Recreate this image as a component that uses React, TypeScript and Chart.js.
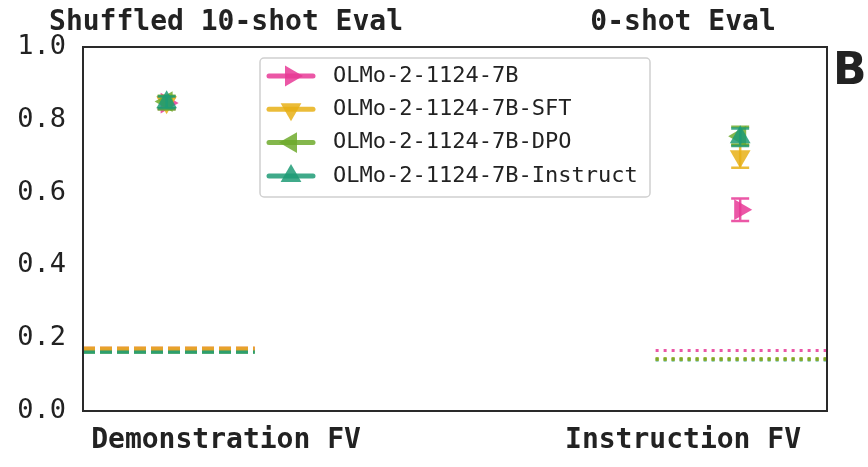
import React, { useEffect, useRef } from "react";
import { Chart, registerables } from "chart.js";

Chart.register(...registerables);

// ---- data ----
const categories = ["Demonstration FV", "Instruction FV"];
const panelTitles = ["Shuffled 10-shot Eval", "0-shot Eval"];
const models = [
  "OLMo-2-1124-7B",
  "OLMo-2-1124-7B-SFT",
  "OLMo-2-1124-7B-DPO",
  "OLMo-2-1124-7B-Instruct",
];
const demoScores = [0.846, 0.848, 0.85, 0.848];
const demoErrLow = [0.83, 0.832, 0.828, 0.832];
const demoErrHigh = [0.862, 0.864, 0.866, 0.864];
const instrScores = [0.553, 0.7, 0.755, 0.752];
const instrErrLow = [0.522, 0.668, 0.732, 0.728];
const instrErrHigh = [0.584, 0.73, 0.781, 0.776];
const demoBaseline = [0.171, 0.172, 0.163, 0.163];
const instrBaseline = [0.166, 0.143, 0.143, 0.141];
const yTicks = [0, 0.2, 0.4, 0.6, 0.8, 1.0];

// ---- styles / layout ----
const colors = [
  "rgba(232,58,150,0.85)",
  "rgba(232,176,22,0.85)",
  "rgba(110,170,45,0.85)",
  "rgba(30,155,118,0.85)",
];
const rotations = [90, 180, 270, 0];
const pointOffset = [-0.13, 0.125];
const baselineSpan = [
  [-0.313, 0.063],
  [0.94, 1.315],
];
const X_MIN = -0.313;
const X_MAX = 1.315;
const MONO = "'DejaVu Sans Mono', monospace";

function drawTri(ctx: CanvasRenderingContext2D, x: number, y: number, r: number, rotDeg: number, color: string) {
  let rad = (rotDeg * Math.PI) / 180;
  ctx.beginPath();
  for (let i = 0; i < 3; i++) {
    const px = x + Math.sin(rad) * r;
    const py = y - Math.cos(rad) * r;
    if (i === 0) ctx.moveTo(px, py);
    else ctx.lineTo(px, py);
    rad += (2 * Math.PI) / 3;
  }
  ctx.closePath();
  ctx.fillStyle = color;
  ctx.fill();
}

const errorBarPlugin = {
  id: "errorBars",
  afterDatasetDraw(chart: any, args: any) {
    const ds = chart.data.datasets[args.index];
    if (!ds.errLow) return;
    const { ctx, scales } = chart;
    ctx.save();
    ctx.strokeStyle = ds.backgroundColor;
    ctx.lineWidth = 2.5;
    ds.data.forEach((p: any, i: number) => {
      const x = scales.x.getPixelForValue(p.x);
      const y1 = scales.y.getPixelForValue(ds.errLow[i]);
      const y2 = scales.y.getPixelForValue(ds.errHigh[i]);
      ctx.beginPath();
      ctx.moveTo(x, y1);
      ctx.lineTo(x, y2);
      ctx.moveTo(x - 9, y1);
      ctx.lineTo(x + 9, y1);
      ctx.moveTo(x - 9, y2);
      ctx.lineTo(x + 9, y2);
      ctx.stroke();
    });
    ctx.restore();
  },
};

const decorPlugin = {
  id: "decor",
  afterDraw(chart: any) {
    const { ctx, chartArea, scales } = chart;
    ctx.save();
    // frame
    ctx.strokeStyle = "#2a2a2a";
    ctx.lineWidth = 2;
    ctx.strokeRect(chartArea.left, chartArea.top, chartArea.right - chartArea.left, chartArea.bottom - chartArea.top);
    // panel titles
    ctx.fillStyle = "#222";
    ctx.font = `bold 28px ${MONO}`;
    ctx.textAlign = "center";
    ctx.textBaseline = "middle";
    panelTitles.forEach((t, i) => {
      ctx.fillText(t, scales.x.getPixelForValue(i), 23);
    });
    // panel letter
    ctx.font = "bold 44px 'DejaVu Sans', sans-serif";
    ctx.textAlign = "left";
    ctx.textBaseline = "alphabetic";
    ctx.fillText("B", 833, 84);
    // legend
    const bx = 260, by = 58, bw = 390, bh = 139;
    ctx.beginPath();
    ctx.roundRect(bx, by, bw, bh, 4);
    ctx.fillStyle = "rgba(255,255,255,0.85)";
    ctx.fill();
    ctx.strokeStyle = "#d0d0d0";
    ctx.lineWidth = 1.5;
    ctx.stroke();
    models.forEach((m, i) => {
      const cy = 76 + i * 33.3;
      ctx.strokeStyle = colors[i];
      ctx.lineWidth = 5;
      ctx.lineCap = "round";
      ctx.beginPath();
      ctx.moveTo(269, cy);
      ctx.lineTo(313, cy);
      ctx.stroke();
      drawTri(ctx, 291, cy, 12, rotations[i], colors[i]);
      ctx.fillStyle = "#222";
      ctx.font = `22px ${MONO}`;
      ctx.textAlign = "left";
      ctx.textBaseline = "middle";
      ctx.fillText(m, 333, cy);
    });
    ctx.restore();
  },
};

export default function App() {
  const ref = useRef<HTMLCanvasElement | null>(null);
  useEffect(() => {
    if (!ref.current) return;
    const sets: any[] = [];
    [2, 0, 3, 1].forEach((i) => {
      sets.push({
        type: "line",
        label: models[i] + " demo baseline",
        data: [
          { x: baselineSpan[0][0], y: demoBaseline[i] },
          { x: baselineSpan[0][1], y: demoBaseline[i] },
        ],
        borderColor: colors[i],
        borderWidth: 4,
        borderDash: [12, 5],
        pointRadius: 0,
        fill: false,
      });
    });
    [3, 1, 2, 0].forEach((i) => {
      sets.push({
        type: "line",
        label: models[i] + " instr baseline",
        data: [
          { x: baselineSpan[1][0], y: instrBaseline[i] },
          { x: baselineSpan[1][1], y: instrBaseline[i] },
        ],
        borderColor: colors[i],
        borderWidth: i === 0 ? 3 : 3.5,
        borderDash: [3, 5],
        pointRadius: 0,
        fill: false,
      });
    });
    models.forEach((m, i) => {
      sets.push({
        type: "scatter",
        label: m,
        data: [
          { x: pointOffset[0], y: demoScores[i] },
          { x: 1 + pointOffset[1], y: instrScores[i] },
        ],
        errLow: [demoErrLow[i], instrErrLow[i]],
        errHigh: [demoErrHigh[i], instrErrHigh[i]],
        backgroundColor: colors[i],
        borderWidth: 0,
        pointStyle: "triangle",
        rotation: rotations[i],
        pointRadius: 12,
      });
    });
    // later datasets drawn on top
    sets.forEach((d, k) => {
      d.order = -k;
    });
    const chart = new Chart(ref.current, {
      type: "scatter",
      data: { datasets: sets as any },
      options: {
        animation: false,
        responsive: false,
        layout: { padding: { top: 47, right: 41, left: 0, bottom: 0 } },
        plugins: { legend: { display: false }, tooltip: { enabled: false }, title: { display: false } },
        scales: {
          x: {
            type: "linear",
            min: X_MIN,
            max: X_MAX,
            grid: { display: false, drawTicks: false },
            border: { display: false },
            afterFit: (s: any) => {
              s.height = 56;
            },
            afterBuildTicks: (s: any) => {
              s.ticks = categories.map((_, i) => ({ value: i }));
            },
            ticks: {
              padding: 13,
              color: "#222",
              font: { family: MONO, size: 28, weight: "bold" },
              callback: (v: any) => categories[Math.round(v)] ?? "",
            },
          },
          y: {
            min: 0,
            max: 1,
            grid: { display: false, drawTicks: false },
            border: { display: false },
            afterFit: (s: any) => {
              s.width = 83;
            },
            afterBuildTicks: (s: any) => {
              s.ticks = yTicks.map((v) => ({ value: v }));
            },
            ticks: {
              padding: 17,
              color: "#222",
              font: { family: MONO, size: 27 },
              callback: (v: any) => Number(v).toFixed(1),
            },
          },
        },
      } as any,
      plugins: [errorBarPlugin, decorPlugin],
    });
    return () => chart.destroy();
  }, []);
  return (
    <div style={{ position: "fixed", left: 0, top: 0, width: 868, height: 467, background: "#fff" }}>
      <canvas ref={ref} width={868} height={467} />
    </div>
  );
}
